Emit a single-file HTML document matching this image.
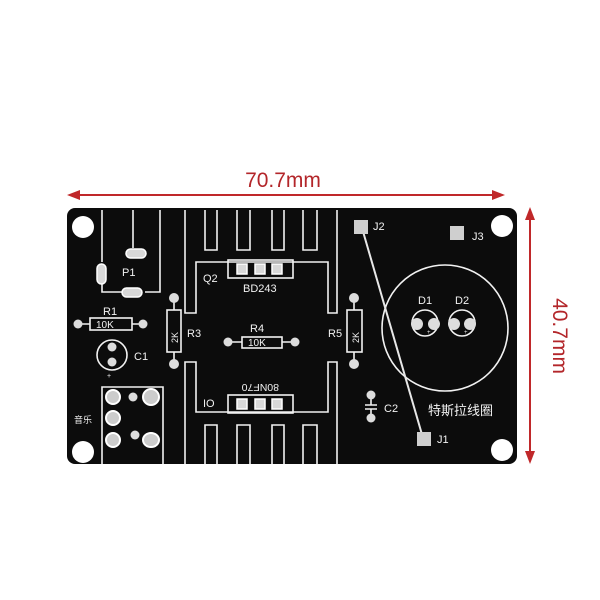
<!DOCTYPE html>
<html><head><meta charset="utf-8"><style>
html,body{margin:0;padding:0;background:#fff;}
svg{display:block}
text{font-family:"Liberation Sans","Noto Sans CJK SC",sans-serif;}
</style></head><body>
<svg width="600" height="600" viewBox="0 0 600 600" xmlns="http://www.w3.org/2000/svg">
<rect width="600" height="600" fill="#fff"/>
<g fill="#c0282a" stroke="#c0282a">
<line x1="72" y1="195" x2="500" y2="195" stroke-width="2"/>
<polygon points="67,195 80,190 80,200" stroke="none"/>
<polygon points="505,195 492,190 492,200" stroke="none"/>
<line x1="530" y1="213" x2="530" y2="458" stroke-width="2"/>
<polygon points="530,207 525,220 535,220" stroke="none"/>
<polygon points="530,464 525,451 535,451" stroke="none"/>
</g>
<text x="283" y="187" font-size="21" fill="#b3262a" text-anchor="middle">70.7mm</text>
<text transform="translate(553,336) rotate(90)" font-size="21" fill="#b3262a" text-anchor="middle">40.7mm</text>
<rect x="67" y="208" width="450" height="256" rx="8" fill="#0c0c0c"/>
<g fill="#fff">
<circle cx="83" cy="227" r="11"/><circle cx="83" cy="452" r="11"/>
<circle cx="502" cy="226" r="11"/><circle cx="502" cy="450" r="11"/>
</g>
<g fill="none" stroke="#f2f2f2" stroke-width="1.6">
<path d="M185 210 V313 H196 V262 H328 V313 H337 V210"/>
<path d="M205 210 V250 H217 V210 M237 210 V250 H250 V210 M272 210 V250 H284 V210 M303 210 V250 H317 V210"/>
<path d="M185 464 V362 H196 V412 H328 V362 H337 V464"/>
<path d="M205 464 V425 H217 V464 M237 464 V425 H250 V464 M272 464 V425 H284 V464 M303 464 V425 H317 V464"/>
<rect x="228" y="260" width="65" height="18"/>
<rect x="228" y="395" width="65" height="18"/>
<path d="M102 210 V262 M102 283 V292 H122 M160 210 V292 H145 M133 210 V248"/>
<rect x="90" y="318" width="42" height="12"/><path d="M78 324 H90 M132 324 H143"/>
<circle cx="112" cy="355" r="15"/>
<rect x="167" y="310" width="14" height="42"/><path d="M174 298 V310 M174 352 V364"/>
<rect x="242" y="337" width="40" height="11"/><path d="M228 342 H242 M282 342 H295"/>
<rect x="347" y="310" width="15" height="42"/><path d="M354 298 V310 M354 352 V364"/>
<path d="M102 464 V387 H163 V464"/>
<circle cx="445" cy="328" r="63"/>
<circle cx="425" cy="323" r="13"/><circle cx="462" cy="323" r="13"/>
<path d="M365 405 H377 M365 409 H377 M371 395 V405 M371 409 V418"/>
</g>
<line x1="362" y1="228" x2="423" y2="438" stroke="#e8e8e8" stroke-width="2"/>
<g fill="#d8d8d8" stroke="#fff" stroke-width="1.5">
<rect x="126" y="249" width="20" height="9" rx="4.5"/>
<rect x="122" y="288" width="20" height="9" rx="4.5"/>
<rect x="97" y="264" width="9" height="20" rx="4.5"/>
<rect x="237" y="264" width="10" height="10"/><rect x="255" y="264" width="10" height="10"/><rect x="272" y="264" width="10" height="10"/>
<rect x="237" y="399" width="10" height="10"/><rect x="255" y="399" width="10" height="10"/><rect x="272" y="399" width="10" height="10"/>
</g>
<g fill="#ddd">
<circle cx="78" cy="324" r="4.5"/><circle cx="143" cy="324" r="4.5"/>
<circle cx="112" cy="347" r="4.5"/><circle cx="112" cy="362" r="4.5"/>
<circle cx="174" cy="298" r="5"/><circle cx="174" cy="364" r="5"/>
<circle cx="228" cy="342" r="4.5"/><circle cx="295" cy="342" r="4.5"/>
<circle cx="354" cy="298" r="5"/><circle cx="354" cy="364" r="5"/>
<circle cx="371" cy="395" r="4.5"/><circle cx="371" cy="418" r="4.5"/>
<circle cx="417" cy="324" r="6"/><circle cx="434" cy="324" r="6"/>
<circle cx="454" cy="324" r="6"/><circle cx="470" cy="324" r="6"/>
<circle cx="133" cy="397" r="4.5"/><circle cx="135" cy="435" r="4.5"/>
</g>
<g fill="#ccc" stroke="#fff" stroke-width="2">
<ellipse cx="113" cy="397" rx="7" ry="7"/><ellipse cx="151" cy="397" rx="8" ry="8"/>
<ellipse cx="113" cy="418" rx="7" ry="7"/>
<ellipse cx="113" cy="440" rx="7" ry="7"/><ellipse cx="151" cy="440" rx="8" ry="7"/>
</g>
<g fill="#cfcfcf">
<rect x="354" y="220" width="14" height="14"/>
<rect x="450" y="226" width="14" height="14"/>
<rect x="417" y="432" width="14" height="14"/>
</g>
<g fill="#f2f2f2" font-size="11">
<text x="122" y="276">P1</text>
<text x="103" y="315">R1</text>
<text x="96" y="328" font-size="10">10K</text>
<text x="134" y="360">C1</text>
<text x="107" y="378" font-size="7">+</text>
<text x="203" y="282">Q2</text>
<text x="243" y="292">BD243</text>
<text x="187" y="337">R3</text>
<text x="250" y="332">R4</text>
<text x="248" y="346" font-size="10">10K</text>
<text x="328" y="337">R5</text>
<text x="203" y="407">IO</text>
<text transform="translate(279,384) rotate(180)" font-size="10.5">80NF70</text>
<text transform="translate(178,343) rotate(-90)" font-size="9">2K</text>
<text transform="translate(359,343) rotate(-90)" font-size="9">2K</text>
<text x="74" y="423" font-size="9">音乐</text>
<text x="373" y="230">J2</text>
<text x="472" y="240">J3</text>
<text x="437" y="443">J1</text>
<text x="418" y="304">D1</text>
<text x="455" y="304">D2</text>
<text x="384" y="412">C2</text>
<text x="428" y="415" font-size="13">特斯拉线圈</text>
<text x="427" y="334" font-size="6">+</text>
<text x="464" y="334" font-size="6">+</text>
</g>
</svg>
</body></html>
